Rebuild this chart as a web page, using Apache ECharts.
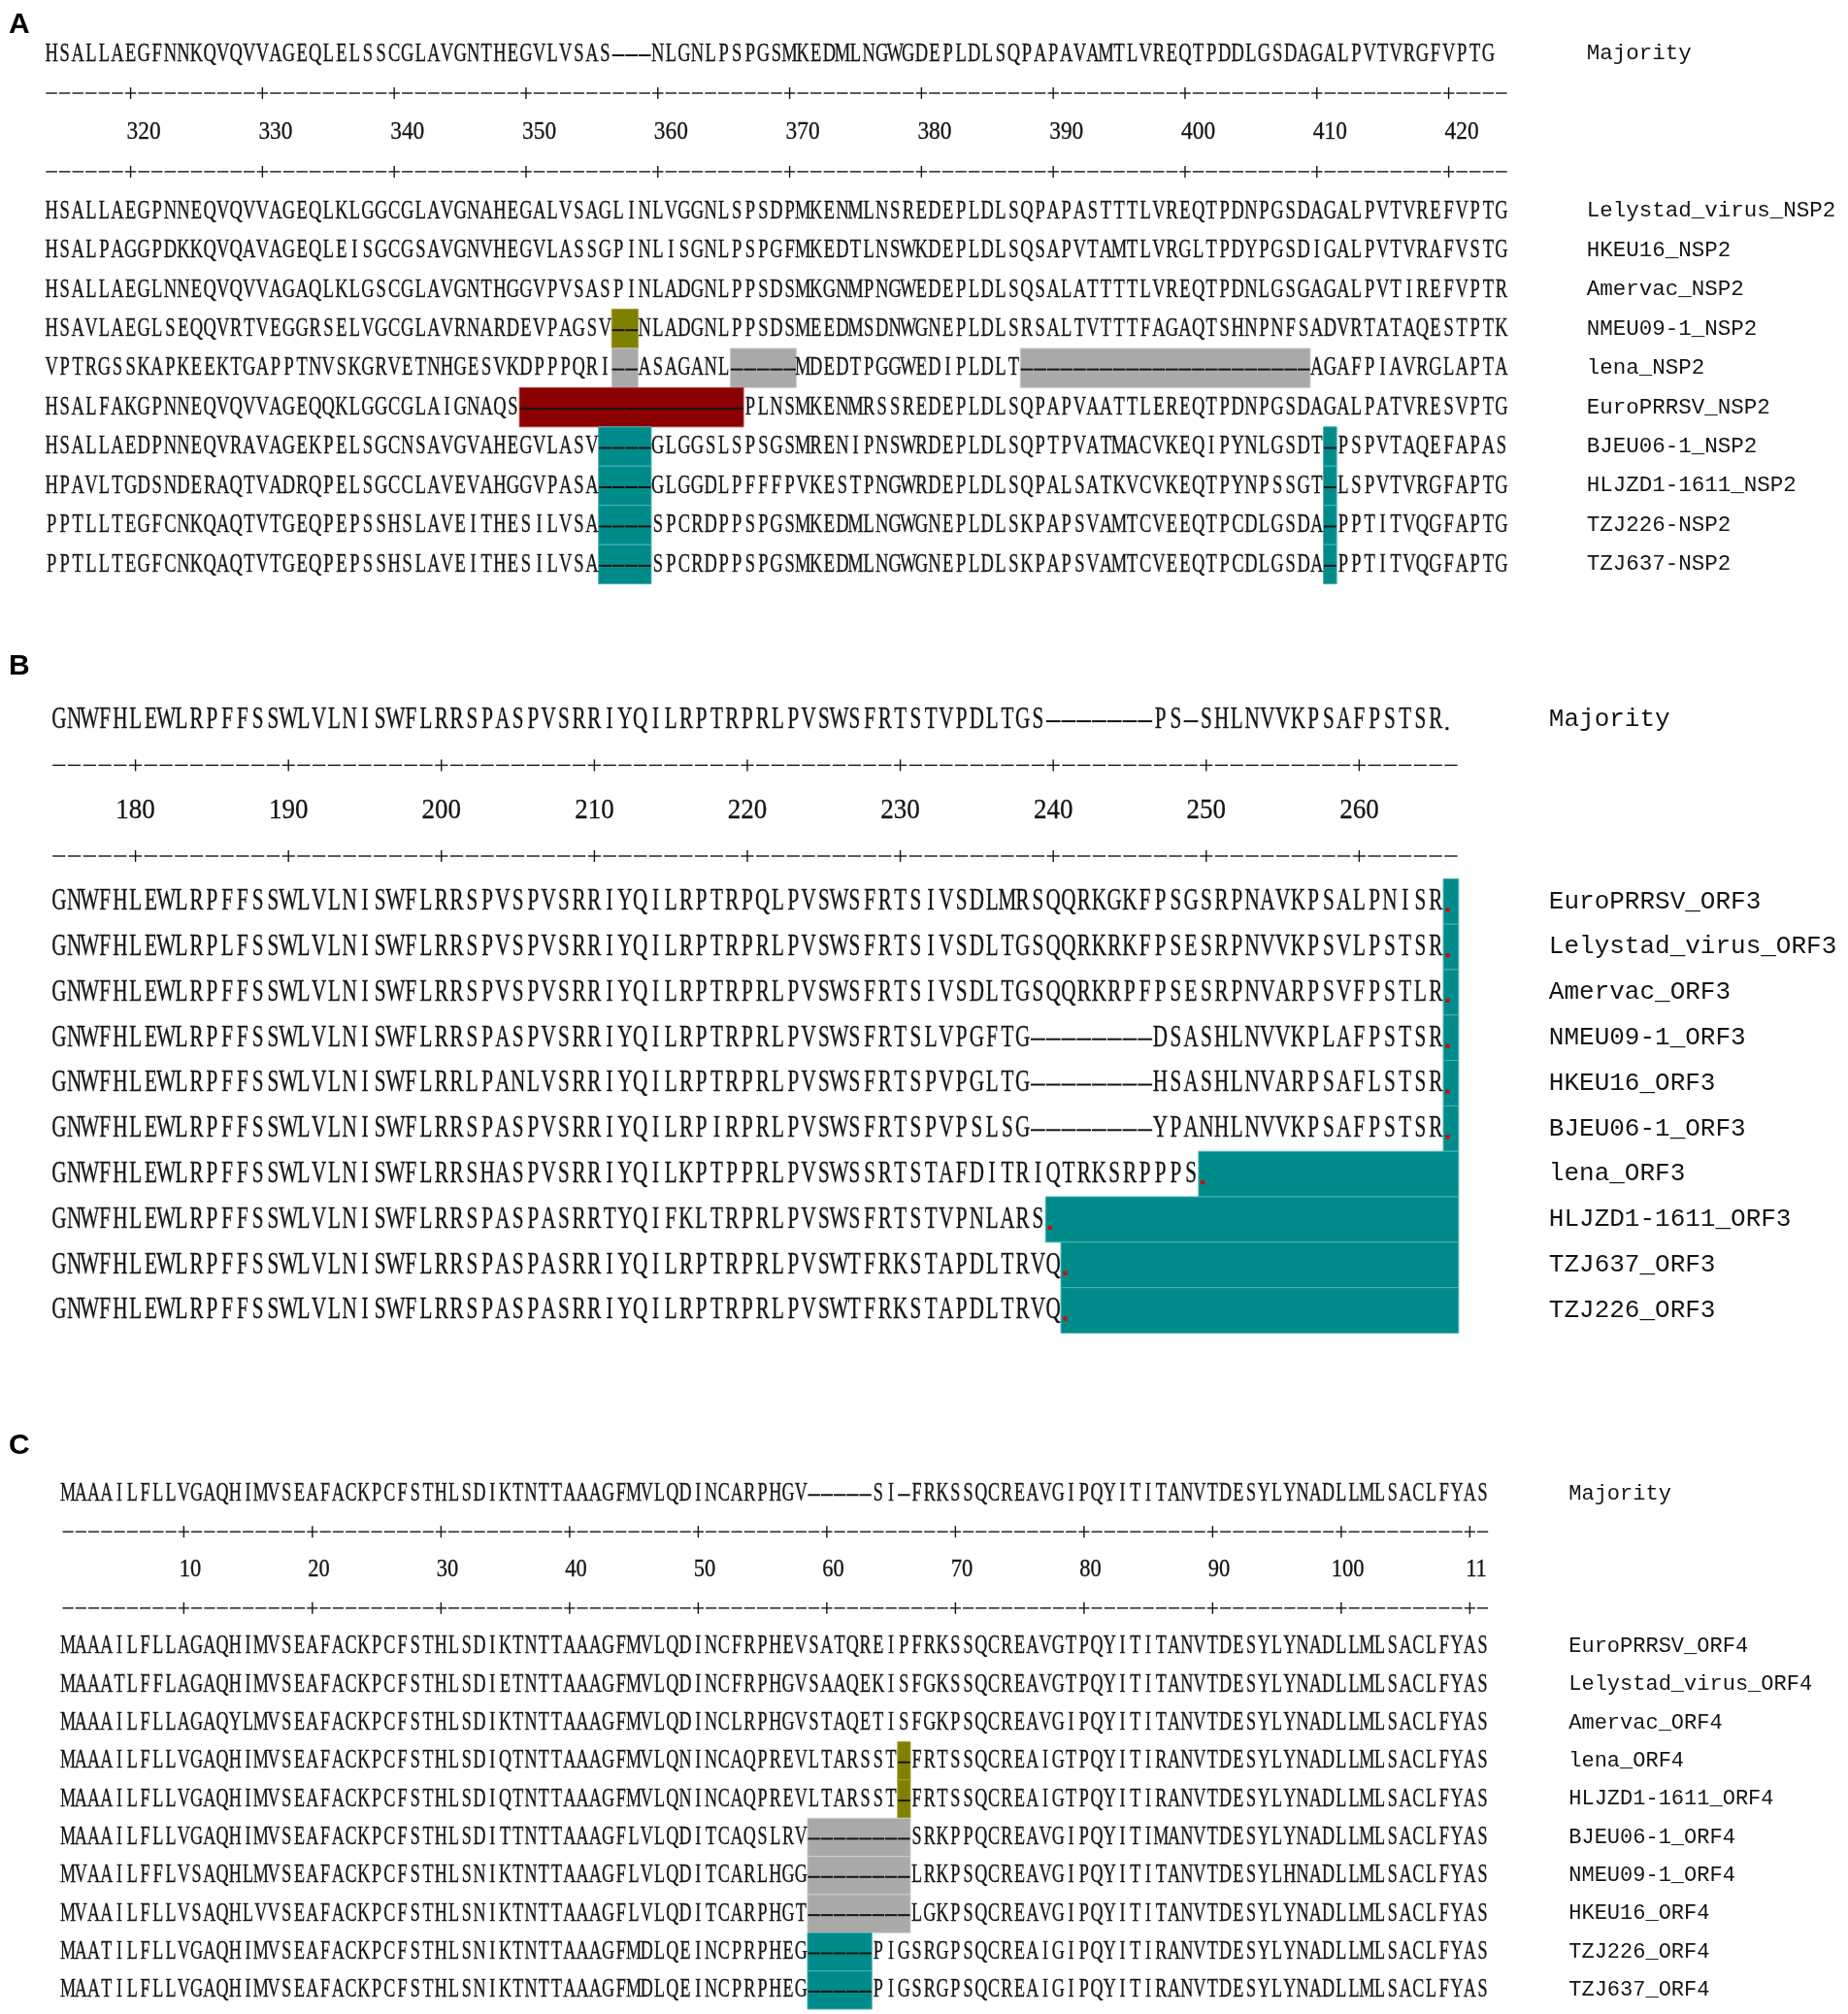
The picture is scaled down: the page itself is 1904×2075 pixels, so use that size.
<!DOCTYPE html>
<html lang="en">
<head>
<meta charset="UTF-8">
<title>NSP2 / ORF3 / ORF4 alignment</title>
<script src="https://cdn.jsdelivr.net/npm/echarts@6/dist/echarts.min.js"></script>
<style>
  html, body { margin: 0; padding: 0; background: #fff; }
  #main { width: 1904px; height: 2075px; }
</style>
</head>
<body>
<div id="main"></div>
<script type="text/javascript">
// ---- panel A : NSP2 ----
var nspNames = ['Lelystad_virus_NSP2', 'HKEU16_NSP2', 'Amervac_NSP2', 'NMEU09-1_NSP2', 'lena_NSP2',
  'EuroPRRSV_NSP2', 'BJEU06-1_NSP2', 'HLJZD1-1611_NSP2', 'TZJ226-NSP2', 'TZJ637-NSP2'];
var nspMajority = 'HSALLAEGFNNKQVQVVAGEQLELSSCGLAVGNTHEGVLVSAS---NLGNLPSPGSMKEDMLNGWGDEPLDLSQPAPAVAMTLVREQTPDDLGSDAGALPVTVRGFVPTG';
var nspSeqs = [
  'HSALLAEGPNNEQVQVVAGEQLKLGGCGLAVGNAHEGALVSAGLINLVGGNLSPSDPMKENMLNSREDEPLDLSQPAPASTTTLVREQTPDNPGSDAGALPVTVREFVPTG',
  'HSALPAGGPDKKQVQAVAGEQLEISGCGSAVGNVHEGVLASSGPINLISGNLPSPGFMKEDTLNSWKDEPLDLSQSAPVTAMTLVRGLTPDYPGSDIGALPVTVRAFVSTG',
  'HSALLAEGLNNEQVQVVAGAQLKLGSCGLAVGNTHGGVPVSASPINLADGNLPPSDSMKGNMPNGWEDEPLDLSQSALATTTTLVREQTPDNLGSGAGALPVTIREFVPTR',
  'HSAVLAEGLSEQQVRTVEGGRSELVGCGLAVRNARDEVPAGSV--NLADGNLPPSDSMEEDMSDNWGNEPLDLSRSALTVTTTFAGAQTSHNPNFSADVRTATAQESTPTK',
  'VPTRGSSKAPKEEKTGAPPTNVSKGRVETNHGESVKDPPPQRI--ASAGANL-----MDEDTPGGWEDIPLDLT----------------------AGAFPIAVRGLAPTA',
  'HSALFAKGPNNEQVQVVAGEQQKLGGCGLAIGNAQS-----------------PLNSMKENMRSSREDEPLDLSQPAPVAATTLEREQTPDNPGSDAGALPATVRESVPTG',
  'HSALLAEDPNNEQVRAVAGEKPELSGCNSAVGVAHEGVLASV----GLGGSLSPSGSMRENIPNSWRDEPLDLSQPTPVATMACVKEQIPYNLGSDT-PSPVTAQEFAPAS',
  'HPAVLTGDSNDERAQTVADRQPELSGCCLAVEVAHGGVPASA----GLGGDLPFFFPVKESTPNGWRDEPLDLSQPALSATKVCVKEQTPYNPSSGT-LSPVTVRGFAPTG',
  'PPTLLTEGFCNKQAQTVTGEQPEPSSHSLAVEITHESILVSA----SPCRDPPSPGSMKEDMLNGWGNEPLDLSKPAPSVAMTCVEEQTPCDLGSDA-PPTITVQGFAPTG',
  'PPTLLTEGFCNKQAQTVTGEQPEPSSHSLAVEITHESILVSA----SPCRDPPSPGSMKEDMLNGWGNEPLDLSKPAPSVAMTCVEEQTPCDLGSDA-PPTITVQGFAPTG'
];
var nspTicks = [320, 330, 340, 350, 360, 370, 380, 390, 400, 410, 420];
var nspTickLabels = ['320', '330', '340', '350', '360', '370', '380', '390', '400', '410', '420'];
var nspFirstPos = 314;
// [kind, first sequence, last sequence, first column, last column]
var nspBoxes = [
  ['olive', 3, 3, 44, 45],
  ['grey', 4, 4, 44, 45],
  ['grey', 4, 4, 53, 57],
  ['grey', 4, 4, 75, 96],
  ['red', 5, 5, 37, 53],
  ['teal', 6, 9, 43, 46],
  ['teal', 6, 9, 98, 98]
];

// ---- panel B : ORF3 ----
var orf3Names = ['EuroPRRSV_ORF3', 'Lelystad_virus_ORF3', 'Amervac_ORF3', 'NMEU09-1_ORF3', 'HKEU16_ORF3',
  'BJEU06-1_ORF3', 'lena_ORF3', 'HLJZD1-1611_ORF3', 'TZJ637_ORF3', 'TZJ226_ORF3'];
var orf3Majority = 'GNWFHLEWLRPFFSSWLVLNISWFLRRSPASPVSRRIYQILRPTRPRLPVSWSFRTSTVPDLTGS-------PS-SHLNVVKPSAFPSTSR.';
var orf3Seqs = [
  'GNWFHLEWLRPFFSSWLVLNISWFLRRSPVSPVSRRIYQILRPTRPQLPVSWSFRTSIVSDLMRSQQRKGKFPSGSRPNAVKPSALPNISR.',
  'GNWFHLEWLRPLFSSWLVLNISWFLRRSPVSPVSRRIYQILRPTRPRLPVSWSFRTSIVSDLTGSQQRKRKFPSESRPNVVKPSVLPSTSR.',
  'GNWFHLEWLRPFFSSWLVLNISWFLRRSPVSPVSRRIYQILRPTRPRLPVSWSFRTSIVSDLTGSQQRKRPFPSESRPNVARPSVFPSTLR.',
  'GNWFHLEWLRPFFSSWLVLNISWFLRRSPASPVSRRIYQILRPTRPRLPVSWSFRTSLVPGFTG--------DSASHLNVVKPLAFPSTSR.',
  'GNWFHLEWLRPFFSSWLVLNISWFLRRLPANLVSRRIYQILRPTRPRLPVSWSFRTSPVPGLTG--------HSASHLNVARPSAFLSTSR.',
  'GNWFHLEWLRPFFSSWLVLNISWFLRRSPASPVSRRIYQILRPIRPRLPVSWSFRTSPVPSLSG--------YPANHLNVVKPSAFPSTSR.',
  'GNWFHLEWLRPFFSSWLVLNISWFLRRSHASPVSRRIYQILKPTPPRLPVSWSSRTSTAFDITRIQTRKSRPPPS.',
  'GNWFHLEWLRPFFSSWLVLNISWFLRRSPASPASRRTYQIFKLTRPRLPVSWSFRTSTVPNLARS.',
  'GNWFHLEWLRPFFSSWLVLNISWFLRRSPASPASRRIYQILRPTRPRLPVSWTFRKSTAPDLTRVQ.',
  'GNWFHLEWLRPFFSSWLVLNISWFLRRSPASPASRRIYQILRPTRPRLPVSWTFRKSTAPDLTRVQ.'
];
var orf3Ticks = [180, 190, 200, 210, 220, 230, 240, 250, 260];
var orf3TickLabels = ['180', '190', '200', '210', '220', '230', '240', '250', '260'];
var orf3FirstPos = 175;
var orf3Boxes = [
  ['teal', 0, 5, 92, 92],
  ['teal', 6, 6, 76, 92],
  ['teal', 7, 7, 66, 92],
  ['teal', 8, 9, 67, 92]
];

// ---- panel C : ORF4 ----
var orf4Names = ['EuroPRRSV_ORF4', 'Lelystad_virus_ORF4', 'Amervac_ORF4', 'lena_ORF4', 'HLJZD1-1611_ORF4',
  'BJEU06-1_ORF4', 'NMEU09-1_ORF4', 'HKEU16_ORF4', 'TZJ226_ORF4', 'TZJ637_ORF4'];
var orf4Majority = 'MAAAILFLLVGAQHIMVSEAFACKPCFSTHLSDIKTNTTAAAGFMVLQDINCARPHGV-----SI-FRKSSQCREAVGIPQYITITANVTDESYLYNADLLMLSACLFYAS';
var orf4Seqs = [
  'MAAAILFLLAGAQHIMVSEAFACKPCFSTHLSDIKTNTTAAAGFMVLQDINCFRPHEVSATQREIPFRKSSQCREAVGTPQYITITANVTDESYLYNADLLMLSACLFYAS',
  'MAAATLFFLAGAQHIMVSEAFACKPCFSTHLSDIETNTTAAAGFMVLQDINCFRPHGVSAAQEKISFGKSSQCREAVGTPQYITITANVTDESYLYNADLLMLSACLFYAS',
  'MAAAILFLLAGAQYLMVSEAFACKPCFSTHLSDIKTNTTAAAGFMVLQDINCLRPHGVSTAQETISFGKPSQCREAVGIPQYITITANVTDESYLYNADLLMLSACLFYAS',
  'MAAAILFLLVGAQHIMVSEAFACKPCFSTHLSDIQTNTTAAAGFMVLQNINCAQPREVLTARSST-FRTSSQCREAIGTPQYITIRANVTDESYLYNADLLMLSACLFYAS',
  'MAAAILFLLVGAQHIMVSEAFACKPCFSTHLSDIQTNTTAAAGFMVLQNINCAQPREVLTARSST-FRTSSQCREAIGTPQYITIRANVTDESYLYNADLLMLSACLFYAS',
  'MAAAILFLLVGAQHIMVSEAFACKPCFSTHLSDITTNTTAAAGFLVLQDITCAQSLRV--------SRKPPQCREAVGIPQYITIMANVTDESYLYNADLLMLSACLFYAS',
  'MVAAILFFLVSAQHLMVSEAFACKPCFSTHLSNIKTNTTAAAGFLVLQDITCARLHGG--------LRKPSQCREAVGIPQYITITANVTDESYLHNADLLMLSACLFYAS',
  'MVAAILFLLVSAQHLVVSEAFACKPCFSTHLSNIKTNTTAAAGFLVLQDITCARPHGT--------LGKPSQCREAVGIPQYITITANVTDESYLYNADLLMLSACLFYAS',
  'MAATILFLLVGAQHIMVSEAFACKPCFSTHLSNIKTNTTAAAGFMDLQEINCPRPHEG-----PIGSRGPSQCREAIGIPQYITIRANVTDESYLYNADLLMLSACLFYAS',
  'MAATILFLLVGAQHIMVSEAFACKPCFSTHLSNIKTNTTAAAGFMDLQEINCPRPHEG-----PIGSRGPSQCREAIGIPQYITIRANVTDESYLYNADLLMLSACLFYAS'
];
var orf4Ticks = [10, 20, 30, 40, 50, 60, 70, 80, 90, 100, 110];
var orf4TickLabels = ['10', '20', '30', '40', '50', '60', '70', '80', '90', '100', '11'];
var orf4FirstPos = 1;
var orf4Boxes = [
  ['olive', 3, 4, 66, 66],
  ['grey', 5, 7, 59, 66],
  ['teal', 8, 9, 59, 63]
];

var panelLetters = ['A', 'B', 'C'];

// ---- look ----
var boxFill = { teal: '#008b8b', olive: '#808000', grey: '#a9a9a9', red: '#8b0000' };
var boxEdge = { teal: '#4fb0b0', olive: '#a3a33a', grey: '#cdcdcd', red: '#b04040' };
var ink = '#141414';
var seqFamily = '"Liberation Serif", "DejaVu Serif", serif';
var nameFamily = '"Liberation Mono", "DejaVu Sans Mono", monospace';

var panels = [
  { names: nspNames, majority: nspMajority, seqs: nspSeqs, ticks: nspTicks, tickLabels: nspTickLabels,
    firstPos: nspFirstPos, boxes: nspBoxes, ncols: 111,
    left: 46.3, colW: 13.58, top: 35.3, pitch: 40.45, labelShift: 1,
    seqSize: 28, seqScale: 0.66, numSize: 26, nameSize: 22.5, nameMargin: 81, letterTop: 11 },
  { names: orf3Names, majority: orf3Majority, seqs: orf3Seqs, ticks: orf3Ticks, tickLabels: orf3TickLabels,
    firstPos: orf3FirstPos, boxes: orf3Boxes, ncols: 92,
    left: 52.9, colW: 15.76, top: 718.2, pitch: 46.8, labelShift: 0,
    seqSize: 32, seqScale: 0.66, numSize: 30, nameSize: 26, nameMargin: 93, letterTop: 672 },
  { names: orf4Names, majority: orf4Majority, seqs: orf4Seqs, ticks: orf4Ticks, tickLabels: orf4TickLabels,
    firstPos: orf4FirstPos, boxes: orf4Boxes, ncols: 111,
    left: 63.5, colW: 13.25, top: 1519.1, pitch: 39.35, labelShift: 0.5,
    seqSize: 27, seqScale: 0.67, numSize: 25, nameSize: 22, nameMargin: 82, letterTop: 1475 }
];

var chartDom = document.getElementById('main');
var myChart = echarts.init(chartDom);

var grids = [], xAxes = [], yAxes = [], series = [], titles = [];

panels.forEach(function (P, k) {
  grids.push({ left: P.left, top: P.top, width: P.ncols * P.colW, height: 14 * P.pitch });
  xAxes.push({ gridIndex: k, type: 'value', min: 0, max: P.ncols, show: false });
  yAxes.push({
    gridIndex: k, type: 'category', inverse: true, position: 'right',
    data: ['Majority', '', '', ''].concat(P.names),
    axisLine: { show: false }, axisTick: { show: false }, splitLine: { show: false },
    axisLabel: { interval: 0, margin: P.nameMargin, align: 'left', color: ink,
      fontFamily: nameFamily, fontSize: P.nameSize }
  });
  titles.push({ text: panelLetters[k], left: 9, top: P.letterTop, padding: 0,
    textStyle: { fontFamily: '"Liberation Sans", Arial, sans-serif', fontWeight: 'bold', fontSize: 30, color: '#000' } });

  // highlight boxes
  var boxData = [];
  P.boxes.forEach(function (b) {
    for (var s = b[1]; s <= b[2]; s++) boxData.push([b[3] - 1, 4 + s, b[4], b[0]]);
  });
  series.push({
    type: 'custom', xAxisIndex: k, yAxisIndex: k, z: 1, silent: true,
    encode: { x: [0, 2], y: 1 },
    data: boxData,
    renderItem: function (params, api) {
      var p0 = api.coord([api.value(0), api.value(1)]);
      var p1 = api.coord([api.value(2), api.value(1)]);
      var h = api.size([0, 1])[1];
      var kind = boxData[params.dataIndex][3];
      return { type: 'rect', shape: { x: p0[0], y: p0[1] - h / 2, width: p1[0] - p0[0], height: h },
        style: { fill: boxFill[kind], stroke: boxEdge[kind], lineWidth: 1 } };
    }
  });

  // sequence text rows
  var texts = [P.majority].concat(P.seqs);
  var rowData = texts.map(function (t, i) { return [0, i === 0 ? 0 : 3 + i]; });
  series.push({
    type: 'custom', xAxisIndex: k, yAxisIndex: k, z: 3, silent: true,
    encode: { x: 0, y: 1 },
    data: rowData,
    renderItem: function (params, api) {
      var row = api.value(1);
      var s = texts[params.dataIndex];
      var cw = api.size([1, 0])[0];
      var cap = P.seqSize * 0.33;
      var kids = [];
      for (var i = 0; i < s.length; i++) {
        var ch = s.charAt(i);
        var p = api.coord([i + 0.5, row]);
        if (ch === '-') {
          kids.push({ type: 'line', shape: { x1: p[0] - cw * 0.47, y1: p[1] + 1.5, x2: p[0] + cw * 0.47, y2: p[1] + 1.5 },
            style: { stroke: ink, lineWidth: 2 } });
        } else if (ch === '.') {
          var d = row > 0 ? 4 : 3;
          kids.push({ type: 'rect', shape: { x: p[0] - cw * 0.35, y: p[1] + cap - d, width: d, height: d },
            style: { fill: row > 0 ? '#e00000' : ink } });
        } else {
          kids.push({ type: 'text', x: p[0], y: p[1], scaleX: P.seqScale,
            style: { text: ch, fill: ink, stroke: ink, lineWidth: 0.35,
              font: P.seqSize + 'px ' + seqFamily, align: 'center', verticalAlign: 'middle' } });
        }
      }
      return { type: 'group', children: kids };
    }
  });

  // position rulers (rows 1 and 3) and numbers (row 2)
  var tickCols = P.ticks.map(function (v) { return v - P.firstPos + 1; });
  series.push({
    type: 'custom', xAxisIndex: k, yAxisIndex: k, z: 3, silent: true,
    encode: { x: 0, y: 1 },
    data: [[0, 1], [0, 2], [0, 3]],
    renderItem: function (params, api) {
      var row = api.value(1);
      var cw = api.size([1, 0])[0];
      var kids = [];
      if (row === 2) {
        tickCols.forEach(function (c, j) {
          var p = api.coord([c - 0.5 + P.labelShift, row]);
          kids.push({ type: 'text', x: p[0], y: p[1], scaleX: 0.9,
            style: { text: P.tickLabels[j], fill: ink, stroke: ink, lineWidth: 0.3,
              font: P.numSize + 'px ' + seqFamily, align: 'center', verticalAlign: 'middle' } });
        });
      } else {
        for (var c = 1; c <= P.ncols; c++) {
          var p = api.coord([c - 0.5, row]);
          kids.push({ type: 'line', shape: { x1: p[0] - cw * 0.42, y1: p[1], x2: p[0] + cw * 0.42, y2: p[1] },
            style: { stroke: ink, lineWidth: 1.4 } });
          if (tickCols.indexOf(c) >= 0) {
            kids.push({ type: 'line', shape: { x1: p[0], y1: p[1] - 6, x2: p[0], y2: p[1] + 6 },
              style: { stroke: ink, lineWidth: 1.4 } });
          }
        }
      }
      return { type: 'group', children: kids };
    }
  });
});

var option = {
  animation: false,
  backgroundColor: '#fff',
  title: titles,
  grid: grids,
  xAxis: xAxes,
  yAxis: yAxes,
  series: series
};
myChart.setOption(option);
</script>
</body>
</html>
